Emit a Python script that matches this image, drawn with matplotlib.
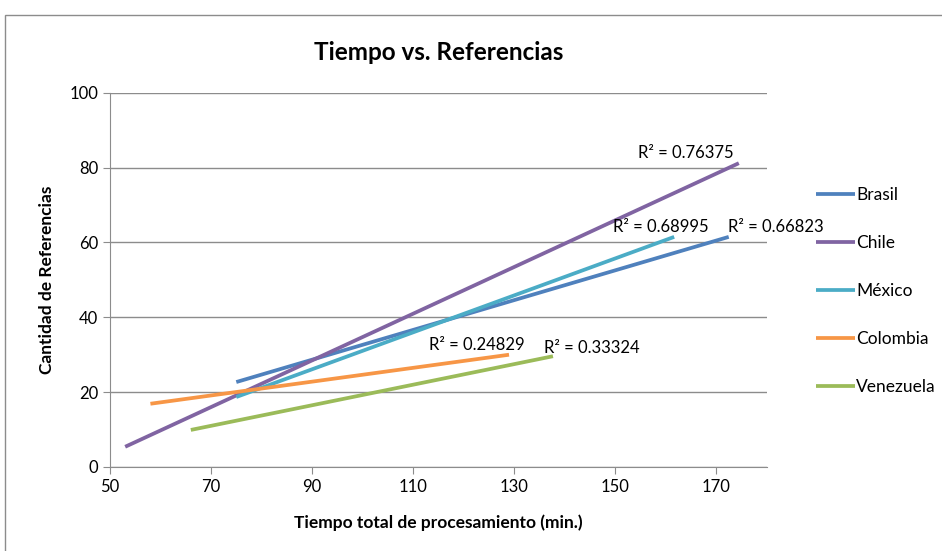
import matplotlib
matplotlib.use("Agg")
import matplotlib.pyplot as plt
from matplotlib.patches import Rectangle

plt.rcParams['font.family'] = ['Lato', 'DejaVu Sans']

# trend lines (endpoints)
paises = ["Brasil", "Chile", "México", "Colombia", "Venezuela"]
colores = ["#4F81BD", "#8064A2", "#4BACC6", "#F79646", "#9BBB59"]
x_ini = [75, 53, 75, 58, 66]
x_fin = [172.5, 174.5, 161.7, 129, 137.7]
y_ini = [22.7, 5.4, 18.7, 16.9, 9.9]
y_fin = [61.5, 81.2, 61.5, 30.0, 29.6]

# R² labels
r2_txt = ["0.66823", "0.76375", "0.68995", "0.24829", "0.33324"]
r2_x = [181.9, 164.1, 159.1, 122.7, 145.4]
r2_y = [64.2, 84.0, 64.2, 32.6, 31.8]

fig = plt.figure(figsize=(9.42, 5.51), dpi=100)
ax = fig.add_axes([0.1168, 0.1525, 0.697, 0.679])

# outer chart frame
fig.patches.append(Rectangle((0.0053, -0.02), 1.1, 0.9928, transform=fig.transFigure,
                             fill=False, edgecolor="#8c8c8c", linewidth=1.0))

for i in range(len(paises)):
    ax.plot([x_ini[i], x_fin[i]], [y_ini[i], y_fin[i]], color=colores[i],
            linewidth=2.7, solid_capstyle='butt', label=paises[i])
    ax.text(r2_x[i], r2_y[i], "R² = " + r2_txt[i], ha='center', va='center',
            fontsize=12, clip_on=False)

ax.set_xlim(50, 180)
ax.set_ylim(0, 100)
ax.set_xticks(range(50, 171, 20))
ax.set_yticks(range(0, 101, 20))
ax.tick_params(direction='out', length=5, color="#8c8c8c", labelsize=12)
ax.grid(axis='y', color="#8c8c8c", linewidth=1.0)
ax.set_axisbelow(True)
for s in ['top', 'right']:
    ax.spines[s].set_visible(False)
for s in ['left', 'bottom']:
    ax.spines[s].set_color("#8c8c8c")

ax.set_title("Tiempo vs. Referencias", fontsize=17.5, fontweight='bold', pad=24)
ax.set_xlabel("Tiempo total de procesamiento (min.)", fontsize=12.5, fontweight='bold', labelpad=14)
ax.set_ylabel("Cantidad de Referencias", fontsize=12.5, fontweight='bold', labelpad=10)

leg = ax.legend(loc='center left', bbox_to_anchor=(1.052, 0.47), frameon=False,
                fontsize=12.5, handlelength=2.2, handletextpad=0.1, labelspacing=1.85)

fig.savefig("out.png", dpi=100)
